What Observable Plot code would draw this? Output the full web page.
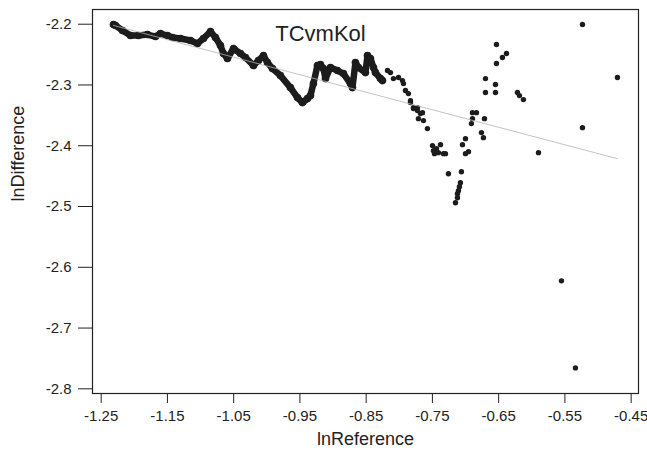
<!DOCTYPE html>
<html>
<head>
<meta charset="utf-8">
<script src="https://cdn.jsdelivr.net/npm/d3@7"></script>
<script src="https://cdn.jsdelivr.net/npm/@observablehq/plot@0.6"></script>
<style>
  html, body { margin: 0; padding: 0; background: #fff; }
  svg { font-family: "Liberation Sans", Arial, sans-serif; }
</style>
</head>
<body>
<div id="chart"></div>
<script>
const titleText = "TCvmKol";
const xLabel = "lnReference";
const yLabel = "lnDifference";
const xTicks = [-1.25, -1.15, -1.05, -0.95, -0.85, -0.75, -0.65, -0.55, -0.45];
const yTicks = [-2.2, -2.3, -2.4, -2.5, -2.6, -2.7, -2.8];

// dense run of overlapping points (read along the trail)
const trailX = [-1.2314, -1.2284, -1.2178, -1.2058, -1.1937, -1.1801, -1.1680, -1.1605, -1.1499, -1.1424,
  -1.1303, -1.1152, -1.1046, -1.0956, -1.0850, -1.0775, -1.0699, -1.0654, -1.0594, -1.0503,
  -1.0397, -1.0322, -1.0201, -1.0126, -1.0050, -0.9990, -0.9914, -0.9794, -0.9643, -0.9537,
  -0.9462, -0.9386, -0.9341, -0.9296, -0.9235, -0.9190, -0.9145, -0.9114, -0.9039, -0.8933,
  -0.8843, -0.8737, -0.8707, -0.8662, -0.8616, -0.8511, -0.8480, -0.8435, -0.8390, -0.8360,
  -0.8284, -0.8254];
const trailY = [-2.2005, -2.2021, -2.2104, -2.2186, -2.2186, -2.2170, -2.2203, -2.2153, -2.2186, -2.2219,
  -2.2236, -2.2269, -2.2318, -2.2236, -2.2120, -2.2219, -2.2351, -2.2483, -2.2565, -2.2400,
  -2.2483, -2.2549, -2.2680, -2.2598, -2.2516, -2.2631, -2.2730, -2.2845, -2.3043, -2.3208,
  -2.3290, -2.3224, -2.3175, -2.2977, -2.2680, -2.2664, -2.2730, -2.2895, -2.2713, -2.2763,
  -2.2812, -2.2977, -2.3043, -2.2631, -2.2713, -2.2796, -2.2516, -2.2565, -2.2713, -2.2796,
  -2.2895, -2.2928];

// separate points
const dotX = [-0.8178, -0.8133, -0.8088, -0.8012, -0.7952, -0.7937, -0.7907, -0.7862, -0.7831, -0.7831,
  -0.7786, -0.7786, -0.7726, -0.7726, -0.7711, -0.7680, -0.7650, -0.7635, -0.7575,
  -0.7499, -0.7484, -0.7469, -0.7439, -0.7409, -0.7378, -0.7333, -0.7303,
  -0.7258, -0.7152, -0.7122, -0.7122, -0.7107, -0.7092, -0.7077, -0.7062,
  -0.7046, -0.7001, -0.7001, -0.6956, -0.6911, -0.6895, -0.6895, -0.6835, -0.6714, -0.6760, -0.6730,
  -0.6699, -0.6699, -0.6548, -0.6548, -0.6533, -0.6533, -0.6443, -0.6382,
  -0.6216, -0.6186, -0.6126, -0.5899, -0.5552, -0.5341, -0.5235, -0.5235, -0.4707];
const dotY = [-2.2763, -2.2796, -2.2895, -2.2878, -2.2928, -2.2977, -2.3092, -2.3142, -2.3257, -2.3290,
  -2.3372, -2.3389, -2.3422, -2.3372, -2.3554, -2.3471, -2.3455, -2.3586, -2.3718,
  -2.3998, -2.4081, -2.4130, -2.4048, -2.4114, -2.3982, -2.4130, -2.4130,
  -2.4460, -2.4937, -2.4855, -2.4789, -2.4740, -2.4674, -2.4608, -2.4427,
  -2.3982, -2.3883, -2.4130, -2.4097, -2.3636, -2.3554, -2.3455, -2.3455, -2.3554, -2.3784, -2.3867,
  -2.2895, -2.3125, -2.3125, -2.2993, -2.2647, -2.2334, -2.2549, -2.2483,
  -2.3125, -2.3175, -2.3241, -2.4114, -2.6223, -2.7656, -2.2005, -2.3702, -2.2878];

// fitted line end points
const fitX = [-1.2314, -0.4707];
const fitY = [-2.2020, -2.4213];

const trail = trailX.map((x, i) => ({x, y: trailY[i]}));
const dots = dotX.map((x, i) => ({x, y: dotY[i]}));
const fit = fitX.map((x, i) => ({x, y: fitY[i]}));

const ink = "#1c1c1c";
const chart = Plot.plot({
  width: 647,
  height: 454,
  marginLeft: 92,
  marginRight: 9,
  marginTop: 9,
  marginBottom: 61,
  style: {fontFamily: "'Liberation Sans', Arial, sans-serif", fontSize: "15px", color: "#222", background: "#fff"},
  x: {domain: [-1.2631, -0.4389]},
  y: {domain: [-2.8077, -2.1758]},
  marks: [
    Plot.line(trail, {x: "x", y: "y", stroke: ink, strokeWidth: 6.5, strokeLinecap: "round", strokeLinejoin: "round"}),
    Plot.dot(trail, {x: "x", y: "y", r: 3.8, fill: ink, stroke: "none"}),
    Plot.dot(dots, {x: "x", y: "y", r: 2.7, fill: ink, stroke: "none"}),
    Plot.line(fit, {x: "x", y: "y", stroke: "#b4b4b4", strokeWidth: 0.8}),
    Plot.frame({stroke: "#222", strokeWidth: 1.2}),
    Plot.axisX({ticks: xTicks, tickFormat: d => d.toFixed(2), tickSize: 10, tickPadding: 7, fontSize: 15, label: null, stroke: "#222"}),
    Plot.axisY({ticks: yTicks, tickFormat: d => d.toFixed(1), tickSize: 14, tickPadding: 7, fontSize: 15, label: null, stroke: "#222"}),
    Plot.text([xLabel], {frameAnchor: "bottom", dy: 51, fontSize: 18, fill: "#222", text: d => d}),
    Plot.text([yLabel], {frameAnchor: "left", dx: -74, rotate: -90, fontSize: 18, fill: "#222", text: d => d}),
    Plot.text([titleText], {frameAnchor: "top", dx: -45, dy: 16, fontSize: 22, fill: "#222", text: d => d})
  ]
});
document.getElementById("chart").appendChild(chart);
</script>
</body>
</html>
